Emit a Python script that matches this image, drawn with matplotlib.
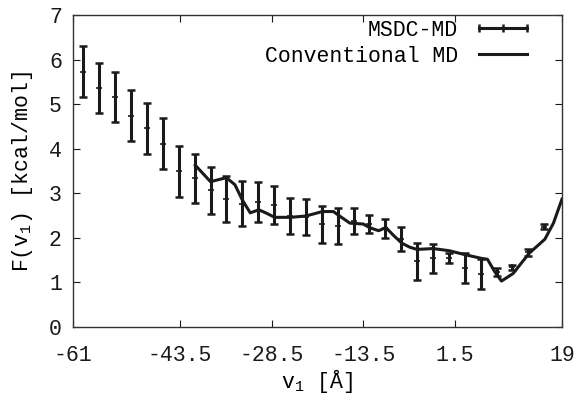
import matplotlib
matplotlib.use("Agg")
import matplotlib.pyplot as plt
from matplotlib.lines import Line2D

plt.rcParams['font.family'] = ['Liberation Mono', 'DejaVu Sans Mono']
plt.rcParams['mathtext.fontset'] = 'custom'
plt.rcParams['mathtext.rm'] = 'Liberation Mono'
plt.rcParams['mathtext.it'] = 'Liberation Mono'

# MSDC-MD free energy profile with error bars
msdc_x = [-59.3, -56.7, -54.1, -51.5, -48.9, -46.3, -43.7, -41.1, -38.5, -35.9,
          -33.3, -30.7, -28.1, -25.5, -22.9, -20.3, -17.7, -15.1, -12.5, -9.9,
          -7.3, -4.7, -2.1, 0.5, 3.1, 5.7, 8.3, 10.9, 13.5, 16.1]
msdc_f = [5.73, 5.36, 5.16, 4.74, 4.46, 4.11, 3.49, 3.34, 3.07, 2.87,
          2.77, 2.80, 2.74, 2.49, 2.47, 2.30, 2.27, 2.38, 2.31, 2.21,
          1.97, 1.47, 1.54, 1.55, 1.32, 1.19, 1.24, 1.34, 1.68, 2.25]
msdc_err = [0.57, 0.57, 0.57, 0.57, 0.57, 0.57, 0.57, 0.55, 0.53, 0.52,
            0.50, 0.45, 0.43, 0.40, 0.40, 0.42, 0.40, 0.30, 0.21, 0.22,
            0.27, 0.42, 0.32, 0.12, 0.34, 0.33, 0.09, 0.06, 0.08, 0.05]

# conventional MD profile
conv_x = [-41.0, -38.5, -35.9, -34.5, -33.3, -32.0, -30.6, -29.3, -28.0, -25.4,
          -22.9, -20.2, -18.4, -17.6, -15.7, -13.5, -12.5, -11.0, -9.8, -8.6,
          -7.2, -5.9, -4.7, -2.1, 0.6, 3.2, 5.8, 6.8, 8.0, 9.1,
          11.0, 13.6, 16.2, 17.6, 19.0]
conv_f = [3.63, 3.26, 3.35, 3.19, 2.85, 2.56, 2.63, 2.55, 2.46, 2.46,
          2.49, 2.59, 2.59, 2.51, 2.33, 2.31, 2.23, 2.16, 2.23, 2.06,
          1.88, 1.79, 1.74, 1.76, 1.71, 1.62, 1.54, 1.52, 1.24, 1.03,
          1.20, 1.65, 1.97, 2.33, 2.87]

xticks = [-61, -43.5, -28.5, -13.5, 1.5, 19]
xtick_labels = ['-61', '-43.5', '-28.5', '-13.5', '1.5', '19']

fig = plt.figure(figsize=(5.76, 3.98), dpi=100)
ax = fig.add_axes([0.1267, 0.1784, 0.849, 0.784])

ax.errorbar(msdc_x, msdc_f, yerr=msdc_err, fmt='none', ecolor='#1a1a1a',
            elinewidth=2.2, capsize=3, capthick=1.8)
ax.plot(msdc_x, msdc_f, ls='none', marker='+', ms=4, mew=1.2, color='#1a1a1a')
ax.plot(conv_x, conv_f, color='#1a1a1a', lw=2.2)

ax.set_xlim(-61, 19)
ax.set_ylim(0, 7)
ax.set_xticks(xticks)
ax.set_xticklabels(xtick_labels)
ax.set_yticks(range(0, 8))
ax.tick_params(direction='in', top=True, right=True, labelsize=15.5,
               length=5, width=0.8, colors='#1a1a1a')
ax.tick_params(axis='x', pad=13)
ax.tick_params(axis='y', pad=8)
for s in ax.spines.values():
    s.set_linewidth(1.0)
    s.set_color('#333333')

ax.set_xlabel(r'v$_1$ [Å]', fontsize=15.5, labelpad=1)
ax.set_ylabel(r'F(v$_1$) [kcal/mol]', fontsize=15.5, labelpad=10)

h1 = Line2D([], [], color='#1a1a1a', lw=2.2, marker='|', ms=6, mew=1.8)
h2 = Line2D([], [], color='#1a1a1a', lw=2.2)
ax.legend([h1, h2], ['MSDC-MD', 'Conventional MD'], loc='upper right',
          bbox_to_anchor=(0.941, 0.985), frameon=False, markerfirst=False,
          numpoints=3, handlelength=2.8, handletextpad=0.7, labelspacing=0.25,
          borderpad=0, borderaxespad=0, fontsize=15.5)

fig.savefig('out.png', dpi=100)
